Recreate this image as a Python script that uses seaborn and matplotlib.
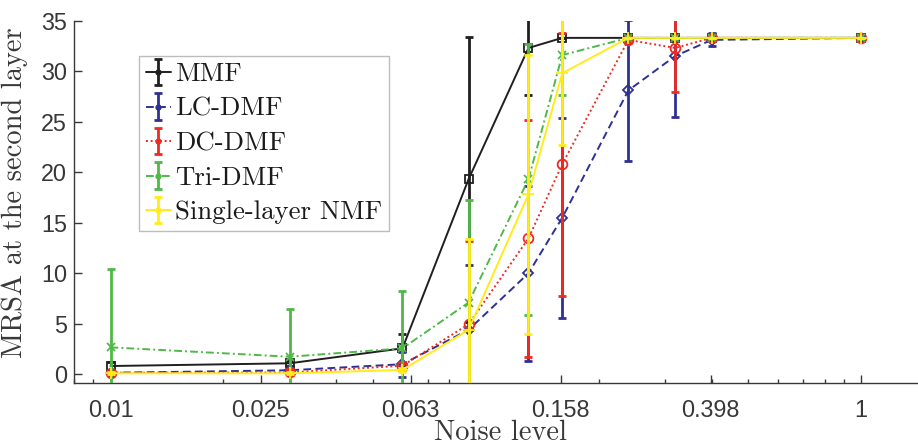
import matplotlib
matplotlib.use("Agg")
import matplotlib.pyplot as plt
import numpy as np
import pandas as pd
import seaborn as sns
from matplotlib.ticker import FixedLocator, FixedFormatter, LogLocator, NullFormatter
from matplotlib.legend_handler import HandlerTuple

# Noise levels and MRSA statistics (mean and half-width of the error bar)
noise = [0.01, 0.03, 0.06, 0.09, 0.13, 0.16, 0.24, 0.32, 0.40, 1.0]
methods = ["MMF", "LC-DMF", "DC-DMF", "Tri-DMF", "Single-layer NMF"]

mmf_mean = [0.82, 1.09, 2.57, 19.3, 32.3, 33.3, 33.3, 33.3, 33.3, 33.3]
mmf_err = [0.35, 0.25, 1.45, 14.1, 4.7, 0.0, 0.0, 0.0, 0.0, 0.0]
lc_mean = [0.15, 0.40, 1.00, 4.4, 10.0, 15.5, 28.1, 31.5, 33.1, 33.3]
lc_err = [0.2, 0.2, 1.25, 6.4, 8.65, 9.9, 7.0, 6.0, 0.65, 0.0]
dc_mean = [0.16, 0.18, 0.85, 4.95, 13.45, 20.8, 33.1, 32.3, 33.3, 33.3]
dc_err = [0.2, 0.2, 0.4, 8.2, 11.7, 13.0, 0.3, 4.4, 0.0, 0.0]
tri_mean = [2.67, 1.74, 2.57, 7.1, 19.3, 31.6, 33.3, 33.3, 33.3, 33.3]
tri_err = [7.75, 4.7, 5.7, 10.2, 13.4, 4.0, 0.0, 0.0, 0.0, 0.0]
nmf_mean = [0.10, 0.10, 0.43, 4.4, 17.8, 29.8, 33.3, 33.3, 33.3, 33.3]
nmf_err = [0.1, 0.1, 0.2, 9.0, 13.8, 7.1, 0.0, 0.0, 0.0, 0.0]

means = [mmf_mean, lc_mean, dc_mean, tri_mean, nmf_mean]
errs = [mmf_err, lc_err, dc_err, tri_err, nmf_err]

colors = ["#1f1f1f", "#2e3192", "#ee2a24", "#50b848", "#ffec1a"]
markers = ["s", "D", "o", "x", "+"]
marker_sizes = [6, 5.5, 7, 6, 9]
dashes = [(None, None), (4.0, 2.2), (1.0, 1.4), (4.0, 1.6, 1.0, 1.6), (None, None)]

xtick_vals = [10 ** (-2 + 0.4 * k) for k in range(6)]
xtick_labels = ["0.01", "0.025", "0.063", "0.158", "0.398", "1"]
ytick_vals = [0, 5, 10, 15, 20, 25, 30, 35]

frames = []
for name, m in zip(methods, means):
    frames.append(pd.DataFrame({"noise": noise, "mrsa": m, "method": name}))
df = pd.concat(frames, ignore_index=True)

sns.set_theme(style="white")
plt.rcParams["axes.formatter.use_mathtext"] = True
serif = ["cmr10", "DejaVu Serif"]
sans = ["Liberation Sans", "DejaVu Sans"]
axis_gray = "#383838"

fig = plt.figure(figsize=(9.18, 4.46), dpi=100)
ax = fig.add_axes([74 / 918, 1 - 383.3 / 446, 1 - 74 / 918, (383.3 - 20.7) / 446])

handles = []
for i, name in enumerate(methods):
    sub = df[df["method"] == name]
    sns.lineplot(data=sub, x="noise", y="mrsa", ax=ax, color=colors[i],
                 linewidth=1.4, legend=False, zorder=2 + i * 2, estimator=None,
                 marker=markers[i], markersize=marker_sizes[i],
                 markerfacecolor="none", markeredgecolor=colors[i],
                 markeredgewidth=1.3)
    line = ax.lines[-1]
    if dashes[i][0] is not None:
        line.set_dashes(dashes[i])
    eb = ax.errorbar(noise, means[i], yerr=errs[i], fmt="none", ecolor=colors[i],
                     elinewidth=2.0, capsize=2.8, capthick=2.0, zorder=3 + i * 2)
    proxy = plt.Line2D([], [], color=colors[i], linewidth=1.4,
                       linestyle=line.get_linestyle(), marker=".",
                       markersize=7, markeredgecolor=colors[i])
    if dashes[i][0] is not None:
        proxy.set_dashes(dashes[i])
    handles.append((proxy, eb))

ax.set_xscale("log")
ax.set_xlim(10 ** (-2.0973), 1.42)
ax.set_ylim(-0.89, 35)

ax.xaxis.set_major_locator(FixedLocator(xtick_vals))
ax.xaxis.set_major_formatter(FixedFormatter(xtick_labels))
ax.xaxis.set_minor_locator(LogLocator(base=10, subs=np.arange(2, 10)))
ax.xaxis.set_minor_formatter(NullFormatter())
ax.set_yticks(ytick_vals)
ax.set_yticklabels([str(v) for v in ytick_vals])

for s in ["top", "right"]:
    ax.spines[s].set_visible(False)
for s in ["left", "bottom"]:
    ax.spines[s].set_color(axis_gray)
    ax.spines[s].set_linewidth(1.0)

ax.tick_params(axis="both", which="both", bottom=True, left=True, top=False, right=False)
ax.tick_params(axis="both", which="major", direction="in", length=6, width=1.0,
               color=axis_gray, labelcolor=axis_gray, labelsize=16.8)
ax.tick_params(axis="x", which="major", pad=11)
ax.tick_params(axis="y", which="major", pad=5)
ax.tick_params(axis="x", which="minor", direction="in", length=3, width=1.0,
               color=axis_gray)
for lab in ax.get_xticklabels() + ax.get_yticklabels():
    lab.set_family(sans)

ax.set_xlabel("Noise level", family=serif, fontsize=20.5, color=axis_gray)
ax.set_ylabel("MRSA at the second layer", family=serif, fontsize=20.5, color=axis_gray)
ax.xaxis.set_label_coords(0.505, -0.101)
ax.yaxis.set_label_coords(-0.055, 0.527)

leg = ax.legend(handles, methods, loc="upper left",
                bbox_to_anchor=(139 / 918, 1 - 56 / 446), bbox_transform=fig.transFigure,
                handler_map={tuple: HandlerTuple(ndivide=1)},
                prop={"family": serif, "size": 19.3}, frameon=True, fancybox=False,
                framealpha=1, edgecolor="#bdbdbd", borderpad=0.25, labelspacing=0.40,
                handlelength=0.95, handletextpad=0.15, borderaxespad=0)
leg.get_frame().set_linewidth(1.0)
for t in leg.get_texts():
    t.set_color("#1a1a1a")

fig.savefig("out.png", dpi=100)
